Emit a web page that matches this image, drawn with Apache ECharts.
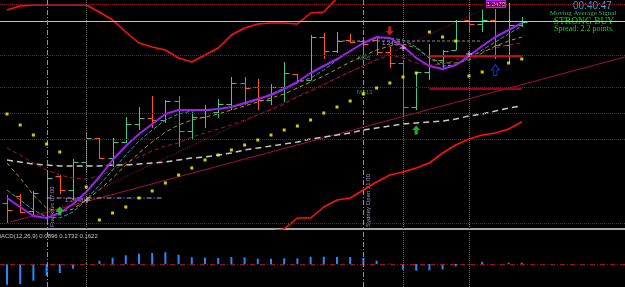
<!DOCTYPE html>
<html>
<head>
<meta charset="utf-8">
<script src="https://cdn.jsdelivr.net/npm/echarts@6/dist/echarts.min.js"></script>
<style>
  html, body { margin: 0; padding: 0; background: #000; }
  #chart { width: 625px; height: 287px; }
</style>
</head>
<body>
<div id="chart"></div>
<script>
// prices in screen units (0 = top of the price pane)
const opens  = [203,196,211,217,176,190,162,138,158,142,124,118,120,101,131,117,112,104,83,87,100,87,74,80,37,51,40,41,40,52,63,107,72,60,50,20,24,20,45,25];
const closes = [210,212,193,178,190,162,138,158,142,124,118,120,101,131,117,110,104,83,88,100,87,73,80,37,51,41,42,44,52,63,107,72,56,51,21,24,20,45,25,22];
const highs  = [195,194,191,175,175,159,133,138,138,117,107,96,100,96,112,105,99,77,77,79,84,62,74,35,33,32,34,38,37,47,60,72,44,50,20,13,9,9,3,17];
const lows   = [223,213,215,220,194,200,173,159,167,143,130,128,123,147,139,128,118,110,105,110,105,102,83,80,59,53,43,53,55,68,117,110,80,70,50,33,32,59,63,27];

// moving averages
const maFast  = [198,207,216,218,213,204,192,177,160,146,134,124,114,110,110,110,109,107,103,99,95,89,82,73,66,59,51,43,37,38,46,58,66,69,65,56,46,37,30,23];
const maCyan  = [190,200,210,217,218,212,200,185,170,155,141,130,120,114,111,110,109,107,104,100,94,88,83,78,70,60,51,43,38,38,40,47,58,66,65,58,50,42,34,26];
const maOlive = [163,178,195,208,212,209,200,190,178,165,153,142,132,125,120,117,114,110,106,102,98,94,88,82,76,69,62,56,50,46,44,48,58,63,63,60,53,46,41,37];
const maRed   = [148,155,163,170,175,178,179,176,170,163,157,151,146,143,137,133,129,125,120,115,110,104,97,91,85,78,72,66,60,55,58,63,65,64,60,56,52,48,45,43];
const maSlow  = [160,162,164,165,166,166,166,166,165,165,164,163,162,160,158,157,155,153,150,148,146,144,142,139,137,135,133,130,128,126,124,123,122,121,119,116,114,111,108,106];

// envelope bands
const bandUpper = [10,6,5,5,5,5,5,12,20,32,43,47,50,58,62,55,48,35,28,24,23,23,24,13,12,-2,-12,-18,-20,-22,-22,-20,-18,-16,-15,-14,-14,-15,-16,-18];
const bandLower = [260,262,264,266,266,265,263,260,257,254,251,248,246,244,242,240,238,236,234,232,231,229,218,218,207,200,198,190,182,175,172,168,163,153,145,139,135,133,129,122];

// parabolic SAR (null where no dot)
const sar = [114,125,135,144,152,null,187,220,213,207,198,191,183,175,168,160,155,150,145,140,135,130,126,120,113,107,101,94,88,83,77,73,32,37,41,76,72,null,63,59];

// MACD histogram
const macd = [-20.7,-20,-16.7,-11.7,-9,-4.7,0.7,3.3,6.3,8.7,10.3,11,11.7,9.3,6.7,6.3,6,7,6.7,5.3,5.3,5.7,5.7,7.3,7.3,7,7,6,3.3,0.3,-5.7,-6.7,-6.3,-5.3,-2.3,-0.3,2.3,0.2,1.3,1.3];

// levels and lines (bar index, price)
const gridLevels = [4,55,87,113,139,223];
const sessionLines = [3.03,27.0];
const dayLines = [6.0,30.0,35.0];
const bidLevel = 21;
const trendA = [[0.23,222],[46.8,57]];
const trendB = [[1.97,220],[37.6,0]];
const levelPurple = [[3,198],[11.8,198]];
const levelGray = [[25,41],[36,41]];
const levelRed1 = [[32,56],[39,56]];
const levelRed2 = [[32,89],[39,89]];

// signals
const buyArrows = [[4.0,211],[31,130]];
const sellArrows = [[29,31]];
const blueArrows = [[37,70]];
const crosses = [[6.06,200],[30,48],[35,54]];

const idx = opens.map((_, i) => i);
const pair = (arr) => arr.map((v, i) => [i, v]);

const chart = echarts.init(document.getElementById('chart'));

const xMin = -0.53, xMax = 46.82;
const GREEN = '#3fc88a', ORANGE = '#ff5a14';

const upArrow = 'path://M5,0 L10,5 L7,5 L7,10 L3,10 L3,5 L0,5 Z';
const downArrow = 'path://M3,0 L7,0 L7,5 L10,5 L5,10 L0,5 L3,5 Z';
const cross = 'path://M0,3 L3,3 L3,0 L4,0 L4,3 L7,3 L7,4 L4,4 L4,7 L3,7 L3,4 L0,4 Z';

const dash = (color, type, width) => ({ color: color, type: type || 'dashed', width: width || 1 });

const options = {
  backgroundColor: '#000',
  animation: false,
  grid: [
    { left: 0, right: 0, top: 0, height: 229 },
    { left: 0, right: 0, top: 231, bottom: 0 }
  ],
  xAxis: [
    { type: 'value', gridIndex: 0, min: xMin, max: xMax, axisLabel: { show: false }, axisTick: { show: false },
      splitLine: { show: false }, axisLine: { show: true, onZero: false, lineStyle: { color: '#a8a8a8', width: 2 } } },
    { type: 'value', gridIndex: 1, min: xMin, max: xMax, show: false }
  ],
  yAxis: [
    { type: 'value', gridIndex: 0, inverse: true, min: 0, max: 229, show: false },
    { type: 'value', gridIndex: 1, min: -23, max: 33, show: false }
  ],
  series: [
    // envelope
    { type: 'line', data: pair(bandUpper), symbol: 'none', lineStyle: { color: '#ff1010', width: 1.6 },
      markLine: { silent: true, symbol: 'none', label: { show: false },
        data: gridLevels.map(v => ({ yAxis: v, lineStyle: dash('#8a1224', 'dotted', 1) }))
          .concat([{ yAxis: bidLevel, lineStyle: { color: '#c4c4c4', type: 'solid', width: 1 } }])
          .concat(sessionLines.map(v => ({ xAxis: v, lineStyle: { color: '#9c88b4', type: [5, 2, 1, 2], width: 1 } })))
          .concat(dayLines.map(v => ({ xAxis: v, lineStyle: dash('#6a6a6a', 'dotted', 1) })))
      } },
    { type: 'line', data: pair(bandLower), symbol: 'none', lineStyle: { color: '#ff1010', width: 1.6 } },
    // trend lines
    { type: 'line', data: trendA, symbol: 'none', lineStyle: { color: '#a0103c', width: 1 } },
    { type: 'line', data: trendB, symbol: 'none', lineStyle: dash('#8b1030', 'dotted', 1) },
    // moving averages
    { type: 'line', data: pair(maSlow), symbol: 'none', lineStyle: { color: '#c8c8c8', type: [6, 4], width: 1.5 } },
    { type: 'line', data: pair(maRed), symbol: 'none', lineStyle: dash('#9b1b30', [4, 3], 1) },
    { type: 'line', data: pair(maOlive), symbol: 'none', lineStyle: dash('#b39a00', [4, 3], 1) },
    { type: 'line', data: pair(maCyan), symbol: 'none', lineStyle: dash('#12a9b8', [4, 2], 1) },
    // levels
    { type: 'line', data: levelPurple, symbol: 'none', lineStyle: { color: '#b8a0d0', type: [5, 2, 1, 2], width: 1 } },
    { type: 'line', data: levelGray, symbol: 'none', lineStyle: { color: '#8e8296', type: [3, 2], width: 1 } },
    { type: 'line', data: levelRed1, symbol: 'none', lineStyle: { color: '#cc1010', width: 2 } },
    { type: 'line', data: levelRed2, symbol: 'none', lineStyle: { color: '#a00010', width: 2 } },
    // OHLC bars
    {
      type: 'custom',
      data: idx.map(i => [i, opens[i], closes[i], highs[i], lows[i]]),
      renderItem: function (params, api) {
        const i = api.value(0);
        const ph = api.coord([i, api.value(3)]);
        const pl = api.coord([i, api.value(4)]);
        const po = api.coord([i, api.value(1)]);
        const pc = api.coord([i, api.value(2)]);
        const up = api.value(2) < api.value(1);
        const x = Math.round(ph[0]) + 0.5;
        const st = { stroke: up ? GREEN : ORANGE, lineWidth: 1 };
        return {
          type: 'group',
          children: [
            { type: 'line', shape: { x1: x, y1: ph[1], x2: x, y2: pl[1] }, style: st },
            { type: 'line', shape: { x1: x - 5, y1: Math.round(po[1]) + 0.5, x2: x, y2: Math.round(po[1]) + 0.5 }, style: st },
            { type: 'line', shape: { x1: x, y1: Math.round(pc[1]) + 0.5, x2: x + 5, y2: Math.round(pc[1]) + 0.5 }, style: st }
          ]
        };
      },
      z: 3
    },
    { type: 'line', data: pair(maFast), symbol: 'none', lineStyle: { color: '#a020f0', width: 2 }, z: 4 },
    // SAR
    { type: 'scatter', data: sar.map((v, i) => v == null ? null : [i, v]).filter(d => d), symbol: 'rect', symbolSize: 3,
      itemStyle: { color: '#ffff00' }, z: 5 },
    // signals
    { type: 'scatter', data: buyArrows, symbol: upArrow, symbolSize: [8, 9], itemStyle: { color: '#30d040' }, z: 6 },
    { type: 'scatter', data: sellArrows, symbol: downArrow, symbolSize: [8, 9], itemStyle: { color: '#ff2020' }, z: 6 },
    { type: 'scatter', data: blueArrows, symbol: upArrow, symbolSize: [8, 11],
      itemStyle: { color: 'rgba(0,0,0,0)', borderColor: '#2040ff', borderWidth: 1 }, z: 6 },
    { type: 'scatter', data: crosses, symbol: cross, symbolSize: 6, itemStyle: { color: '#ffffff' }, z: 6 },
    // MACD
    {
      type: 'bar', xAxisIndex: 1, yAxisIndex: 1, data: pair(macd), barWidth: 2,
      itemStyle: { color: '#1e8cff' },
      markLine: { silent: true, symbol: 'none', label: { show: false },
        data: [{ yAxis: 0, lineStyle: { color: '#a01020', type: [5, 2, 1, 2], width: 1 } }]
          .concat(sessionLines.map(v => ({ xAxis: v, lineStyle: { color: '#9c88b4', type: [5, 2, 1, 2], width: 1 } })))
          .concat(dayLines.map(v => ({ xAxis: v, lineStyle: dash('#6a6a6a', 'dotted', 1) })))
      }
    }
  ],
  graphic: [
    { type: 'text', left: 573, top: 1, style: { text: '00:40:47', fill: '#00b4e8', font: '10px Arial' } },
    { type: 'text', x: 583, y: 13, style: { text: 'Moving Average Signal', fill: '#4ea862', font: '7px "Liberation Serif"', textAlign: 'center', textVerticalAlign: 'middle' } },
    { type: 'text', x: 584, y: 21, style: { text: 'STRONG BUY', fill: '#00d400', font: '9.5px "Liberation Serif"', textAlign: 'center', textVerticalAlign: 'middle' } },
    { type: 'text', x: 584, y: 29, style: { text: 'Spread: 2.2 points.', fill: '#20c820', font: '8px "Liberation Serif"', textAlign: 'center', textVerticalAlign: 'middle' } },
    { type: 'rect', shape: { x: 486.5, y: 0.5, width: 19, height: 7 }, style: { fill: '#6a0090', stroke: '#c020ff' } },
    { type: 'text', x: 496, y: 4, style: { text: '1.2470', fill: '#e0c0ff', font: '6px Arial', textAlign: 'center', textVerticalAlign: 'middle' } },
    { type: 'text', x: 65, y: 200, style: { text: '1.2448', fill: '#b090d0', font: '6px Arial', textVerticalAlign: 'middle' } },
    { type: 'text', x: 382, y: 43, style: { text: '1.2453', fill: '#b090d0', font: '6px Arial', textVerticalAlign: 'middle' } },
    { type: 'text', x: 358, y: 58, style: { text: 'MA5', fill: '#2e8b57', font: '6px Arial', textVerticalAlign: 'middle' } },
    { type: 'text', x: 357, y: 92, style: { text: 'MA13', fill: '#2e8b57', font: '6px Arial', textVerticalAlign: 'middle' } },
    { type: 'text', x: 52, y: 227, rotation: Math.PI / 2, style: { text: 'Frankfurt 07:00', fill: '#a090c0', font: '6px Arial', textVerticalAlign: 'middle' } },
    { type: 'text', x: 368, y: 227, rotation: Math.PI / 2, style: { text: 'Sydney Open 21:00', fill: '#a090c0', font: '6px Arial', textVerticalAlign: 'middle' } },
    { type: 'text', x: -4, y: 236, style: { text: 'MACD(12,26,9) 0.0896 0.1732 0.1622', fill: '#c8c8c8', font: '6px Arial', textVerticalAlign: 'middle' } }
  ]
};

chart.setOption(options);
</script>
</body>
</html>
